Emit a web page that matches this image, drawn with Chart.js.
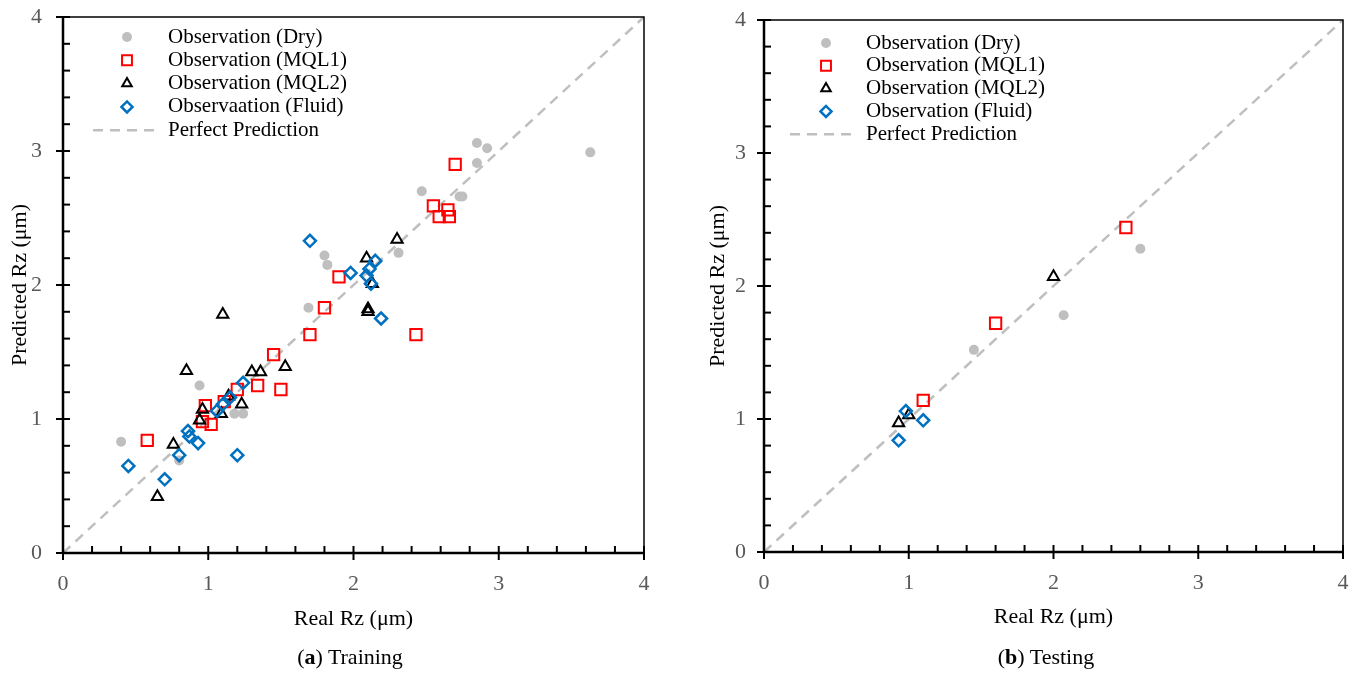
<!DOCTYPE html>
<html><head><meta charset="utf-8">
<script src="https://cdn.jsdelivr.net/npm/chart.js@4.4.1/dist/chart.umd.min.js"></script>
<style>
html,body{margin:0;padding:0;background:#fff;}
#wrap{position:relative;width:1359px;height:679px;overflow:hidden;background:#fff;}
.box{position:absolute;top:0;height:679px;}
#b1{left:0;width:680px;} #b2{left:680px;width:679px;}
.cap{position:absolute;top:644px;font-family:"Liberation Serif","Times New Roman",serif;font-size:22px;line-height:26px;color:#000;white-space:nowrap;transform:translateX(-50%);}
</style></head>
<body><div id="wrap">
<div class="box" id="b1"><canvas id="c1" width="680" height="679"></canvas></div>
<div class="box" id="b2"><canvas id="c2" width="679" height="679"></canvas></div>
<div class="cap" style="left:350px">(<b>a</b>) Training</div>
<div class="cap" style="left:1046px">(<b>b</b>) Testing</div>
</div>
<script>
// ---------- data ----------
const axisTicks = [0, 1, 2, 3, 4];
const xTitle = 'Real Rz (μm)';
const yTitle = 'Predicted Rz (μm)';
const trainLegend = ['Observation (Dry)', 'Observation (MQL1)', 'Observation (MQL2)', 'Observaation (Fluid)', 'Perfect Prediction'];
const testLegend  = ['Observation (Dry)', 'Observation (MQL1)', 'Observation (MQL2)', 'Observation (Fluid)', 'Perfect Prediction'];

const trainDry = [[0.40,0.83],[0.80,0.69],[0.94,1.25],[1.18,1.04],[1.24,1.04],[1.69,1.83],[1.80,2.22],[1.82,2.15],
  [2.31,2.24],[2.47,2.70],[2.73,2.66],[2.75,2.66],[2.85,3.06],[2.85,2.91],[2.92,3.02],[3.63,2.99]];
const trainMQL1 = [[0.58,0.84],[0.96,0.98],[0.98,1.10],[1.02,0.96],[1.11,1.13],[1.20,1.22],[1.34,1.25],[1.50,1.22],
  [1.45,1.48],[1.70,1.63],[1.80,1.83],[1.90,2.06],[2.43,1.63],[2.55,2.59],[2.65,2.56],[2.59,2.51],[2.66,2.51],[2.70,2.90]];
const trainMQL2 = [[0.65,0.42],[0.76,0.81],[0.85,1.36],[0.94,0.99],[0.96,1.07],[1.09,1.04],[1.14,1.17],[1.23,1.11],
  [1.10,1.78],[1.30,1.35],[1.36,1.35],[1.53,1.39],[2.09,2.20],[2.13,2.01],[2.10,1.82],[2.10,1.80],[2.30,2.34]];
const trainFluid = [[0.45,0.65],[0.70,0.55],[0.80,0.73],[0.86,0.91],[0.87,0.87],[0.93,0.82],[1.06,1.06],[1.10,1.11],
  [1.15,1.16],[1.24,1.27],[1.20,0.73],[1.70,2.33],[1.98,2.09],[2.15,2.18],[2.11,2.12],[2.09,2.07],[2.12,2.01],[2.19,1.75]];

const testDry   = [[1.45,1.52],[2.07,1.78],[2.60,2.28]];
const testMQL1  = [[1.10,1.14],[1.60,1.72],[2.50,2.44]];
const testMQL2  = [[0.93,0.97],[1.00,1.03],[2.00,2.07]];
const testFluid = [[0.93,0.84],[0.98,1.06],[1.10,0.99]];

const perfectLine = [[0,0],[4,4]];

// ---------- styles ----------
const FONT = '"Liberation Serif","Times New Roman",serif';
const styles = [
  {pointStyle:'circle',  radius:5,   bg:'#BFBFBF', border:'#BFBFBF', bw:0,   legR:5},
  {pointStyle:'rect',    radius:8,   bg:'rgba(0,0,0,0)', border:'#FF0000', bw:2,   legR:7},
  {pointStyle:'triangle',radius:6.5, bg:'rgba(0,0,0,0)', border:'#000000', bw:2,   legR:5.5},
  {pointStyle:'rectRot', radius:6,   bg:'rgba(0,0,0,0)', border:'#0070C0', bw:2.5, legR:5.5}
];
const toXY = arr => arr.map(p => ({x:p[0], y:p[1]}));

function drawMarker(ctx, st, x, y, r){
  ctx.save();
  ctx.beginPath();
  if (st.pointStyle === 'circle') { ctx.arc(x, y, r, 0, Math.PI*2); }
  else if (st.pointStyle === 'rect') { const s = r*Math.SQRT1_2; ctx.rect(x-s, y-s, 2*s, 2*s); }
  else if (st.pointStyle === 'triangle') {
    let a = 0;
    ctx.moveTo(x + Math.sin(a)*r, y - Math.cos(a)*r); a += 2*Math.PI/3;
    ctx.lineTo(x + Math.sin(a)*r, y - Math.cos(a)*r); a += 2*Math.PI/3;
    ctx.lineTo(x + Math.sin(a)*r, y - Math.cos(a)*r); ctx.closePath();
  } else { ctx.moveTo(x-r,y); ctx.lineTo(x,y-r); ctx.lineTo(x+r,y); ctx.lineTo(x,y+r); ctx.closePath(); }
  if (st.bw === 0) { ctx.fillStyle = st.bg; ctx.fill(); }
  else { ctx.lineWidth = st.bw; ctx.strokeStyle = st.border; ctx.stroke(); }
  ctx.restore();
}

const decor = {
  id: 'decor',
  afterDraw(chart, args, o) {
    const ctx = chart.ctx, xs = chart.scales.x, ys = chart.scales.y, a = chart.chartArea;
    ctx.save();
    ctx.strokeStyle = '#000';
    ctx.lineWidth = 1.5;
    ctx.beginPath(); ctx.moveTo(a.left, a.top); ctx.lineTo(a.right, a.top); ctx.lineTo(a.right, a.bottom); ctx.stroke();
    ctx.lineWidth = 2.5;
    ctx.beginPath(); ctx.moveTo(a.left, a.top); ctx.lineTo(a.left, a.bottom); ctx.lineTo(a.right, a.bottom); ctx.stroke();
    ctx.lineWidth = 2;
    for (let i = 0; i <= 20; i++) {
      const v = i * 0.2, major = (i % 5 === 0);
      const px = xs.getPixelForValue(v);
      ctx.beginPath(); ctx.moveTo(px, a.bottom + (major ? 7 : 0)); ctx.lineTo(px, a.bottom - 7); ctx.stroke();
      const py = ys.getPixelForValue(v);
      ctx.beginPath(); ctx.moveTo(a.left - (major ? 7 : 0), py); ctx.lineTo(a.left + 7, py); ctx.stroke();
    }
    // legend
    ctx.font = '21px ' + FONT;
    ctx.textBaseline = 'middle';
    ctx.fillStyle = '#000';
    o.labels.forEach((lab, i) => {
      const y = o.y0 + i * o.dy;
      if (i < 4) drawMarker(ctx, styles[i], o.mx, y, styles[i].legR);
      else {
        ctx.save(); ctx.strokeStyle = '#BFBFBF'; ctx.lineWidth = 2.5; ctx.setLineDash([10, 7]);
        ctx.beginPath(); ctx.moveTo(o.d1, y); ctx.lineTo(o.d2, y); ctx.stroke(); ctx.restore();
      }
      ctx.fillText(lab, o.tx, y);
    });
    ctx.restore();
  }
};

function zeroPad(s) { s.paddingTop = 0; s.paddingBottom = 0; s.paddingLeft = 0; s.paddingRight = 0; }

function makeChart(id, series, legend, lay) {
  const datasets = series.map((s, i) => ({
    label: legend[i], data: toXY(s), order: 4 - i,
    pointStyle: styles[i].pointStyle, pointRadius: styles[i].radius, pointHoverRadius: styles[i].radius,
    pointBackgroundColor: styles[i].bg, pointBorderColor: styles[i].border, pointBorderWidth: styles[i].bw,
    backgroundColor: styles[i].bg, borderColor: styles[i].border
  }));
  datasets.push({
    type: 'line', label: legend[4], data: toXY(perfectLine), order: 10,
    borderColor: '#BFBFBF', borderWidth: 2.5, borderDash: [10, 7], pointRadius: 0, fill: false, showLine: true
  });
  const tickFont = {family: FONT, size: 22};
  return new Chart(document.getElementById(id), {
    type: 'scatter',
    data: {datasets},
    plugins: [decor],
    options: {
      responsive: false, animation: false, events: [],
      layout: {padding: lay.pad},
      plugins: {legend: {display: false}, tooltip: {enabled: false},
        decor: {labels: legend, mx: lay.mx, tx: lay.tx, y0: lay.y0, dy: lay.dy, d1: lay.d1, d2: lay.d2}},
      scales: {
        x: {
          type: 'linear', min: 0, max: 4, afterFit: s => { s.height = 90; zeroPad(s); },
          afterBuildTicks: s => { s.ticks = axisTicks.map(v => ({value: v})); },
          grid: {display: false, drawTicks: false}, border: {display: false},
          ticks: {font: tickFont, color: '#595959', padding: 18, maxRotation: 0, callback: v => String(v)},
          title: {display: true, text: xTitle, color: '#000', font: {family: FONT, size: 22}, padding: {top: 0, bottom: lay.xtp}}
        },
        y: {
          type: 'linear', min: 0, max: 4, afterFit: s => { s.width = lay.yw; zeroPad(s); },
          afterBuildTicks: s => { s.ticks = axisTicks.map(v => ({value: v})); },
          grid: {display: false, drawTicks: false}, border: {display: false},
          ticks: {font: tickFont, color: '#595959', padding: lay.ylp, callback: v => String(v)},
          title: {display: true, text: yTitle, color: '#000', font: {family: FONT, size: 22}, padding: {top: lay.ytp, bottom: 0}}
        }
      }
    }
  });
}

makeChart('c1', [trainDry, trainMQL1, trainMQL2, trainFluid], trainLegend,
  {pad: {top: 17, right: 36, bottom: 36, left: 0}, yw: 63, ylp: 21, ytp: 7, xtp: 11,
   mx: 127, tx: 168, y0: 37, dy: 23.3, d1: 93, d2: 158});
makeChart('c2', [testDry, testMQL1, testMQL2, testFluid], testLegend,
  {pad: {top: 20, right: 16, bottom: 37, left: 0}, yw: 84, ylp: 18, ytp: 25, xtp: 12,
   mx: 146, tx: 186, y0: 43, dy: 22.8, d1: 110, d2: 175});
</script>
</body></html>
